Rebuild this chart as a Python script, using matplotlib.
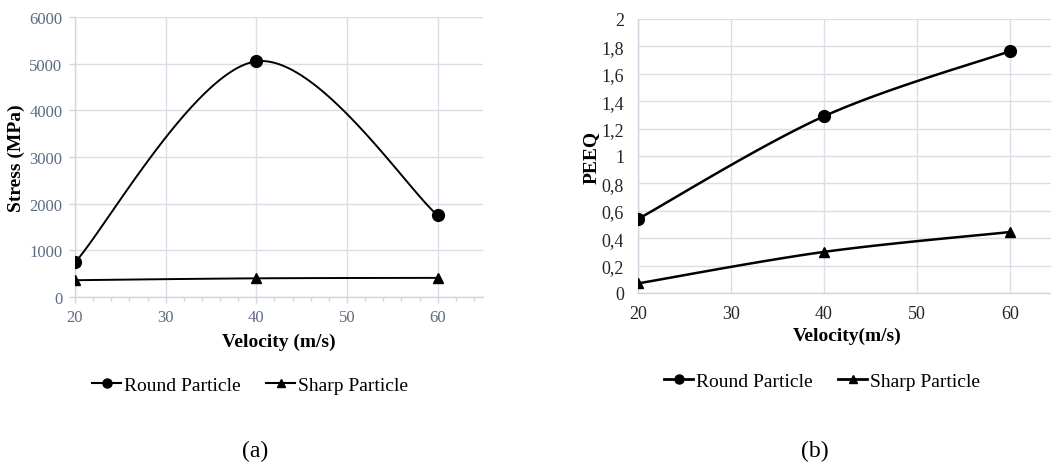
import numpy as np
import matplotlib
matplotlib.use("Agg")
import matplotlib.pyplot as plt
from matplotlib.ticker import MultipleLocator, FuncFormatter
from matplotlib.lines import Line2D

plt.rcParams['font.family'] = ['Liberation Serif', 'DejaVu Serif']

velocity = [20, 40, 60]
stress_round = [740, 5050, 1750]
stress_sharp = [360, 400, 410]
peeq_round = [0.54, 1.29, 1.765]
peeq_sharp = [0.07, 0.30, 0.445]

labels = ["Round Particle", "Sharp Particle"]
xlabel_a = "Velocity (m/s)"
xlabel_b = "Velocity(m/s)"
ylabel_a = "Stress (MPa)"
ylabel_b = "PEEQ"


def smooth(x, y, n=60):
    """Excel-like smoothed line: cubic Bezier with Catmull-Rom control points."""
    P = np.column_stack([x, y]).astype(float)
    P_ext = np.vstack([P[0], P, P[-1]])
    out = []
    t = np.linspace(0, 1, n)[:, None]
    for i in range(len(P) - 1):
        p0 = P_ext[i + 1]
        p3 = P_ext[i + 2]
        c1 = p0 + (P_ext[i + 2] - P_ext[i]) / 6.0
        c2 = p3 - (P_ext[i + 3] - P_ext[i + 1]) / 6.0
        seg = ((1 - t) ** 3) * p0 + 3 * ((1 - t) ** 2) * t * c1 + 3 * (1 - t) * t ** 2 * c2 + t ** 3 * p3
        out.append(seg if i == 0 else seg[1:])
    s = np.vstack(out)
    return s[:, 0], s[:, 1]


W, H = 1051, 464
fig = plt.figure(figsize=(W / 100, H / 100), dpi=100)

grid_c = '#D9DEE7'

# ---------- panel (a) ----------
ax1 = fig.add_axes([75 / W, 1 - 298 / H, (483 - 75) / W, (298 - 18) / H])
ax1.set_xlim(20, 65)
ax1.set_ylim(0, 6000)
ax1.xaxis.set_minor_locator(MultipleLocator(2))
ax1.yaxis.set_major_locator(MultipleLocator(1000))
ax1.set_xticks([20, 30, 40, 50, 60])
ax1.grid(True, which='major', color=grid_c, linewidth=1.0)
ax1.set_axisbelow(True)
for s in ['top', 'right']:
    ax1.spines[s].set_visible(False)
for s in ['left', 'bottom']:
    ax1.spines[s].set_color('#D0D6E0')
    ax1.spines[s].set_linewidth(1.0)
ax1.tick_params(axis='both', which='major', colors='#D0D6E0', labelcolor='#5B6B82',
                labelsize=12, length=4, width=1.0)
ax1.tick_params(axis='x', which='minor', colors='#D0D6E0', length=3, width=1.0)
ax1.tick_params(axis='y', which='major', pad=5)
ax1.tick_params(axis='x', which='major', pad=5)

xr, yr = smooth(velocity, stress_round)
xs, ys = smooth(velocity, stress_sharp)
ax1.plot(xr, yr, color='black', linewidth=1.4, zorder=3)
ax1.plot(velocity, stress_round, linestyle='none', marker='o', markersize=8.5, color='black', zorder=4)
ax1.plot(xs, ys, color='black', linewidth=1.4, zorder=3)
ax1.plot(velocity, stress_sharp, linestyle='none', marker='^', markersize=7.5, color='black', zorder=4)
ax1.set_xlabel(xlabel_a, fontsize=14, fontweight='bold', labelpad=5)
ax1.set_ylabel(ylabel_a, fontsize=14, fontweight='bold', labelpad=3)

# ---------- panel (b) ----------
ax2 = fig.add_axes([638 / W, 1 - 294 / H, (45 * 9.3) / W, (294 - 20) / H])
ax2.set_xlim(20, 65)
ax2.set_ylim(0, 2)
ax2.set_xticks([20, 30, 40, 50, 60])
ax2.yaxis.set_major_locator(MultipleLocator(0.2))
ax2.yaxis.set_major_formatter(FuncFormatter(lambda v, p: ('%g' % round(v, 1)).replace('.', ',')))
ax2.grid(True, which='major', color=grid_c, linewidth=1.0)
ax2.set_axisbelow(True)
for s in ['top', 'right']:
    ax2.spines[s].set_visible(False)
for s in ['left', 'bottom']:
    ax2.spines[s].set_color('#D0D6E0')
    ax2.spines[s].set_linewidth(1.0)
ax2.tick_params(axis='both', which='major', length=0, labelcolor='#262626', labelsize=13)
ax2.tick_params(axis='y', pad=10)
ax2.tick_params(axis='x', pad=9)

xr2, yr2 = smooth(velocity, peeq_round)
xs2, ys2 = smooth(velocity, peeq_sharp)
ax2.plot(xr2, yr2, color='black', linewidth=1.8, zorder=3)
ax2.plot(velocity, peeq_round, linestyle='none', marker='o', markersize=8.5, color='black', zorder=4)
ax2.plot(xs2, ys2, color='black', linewidth=1.8, zorder=3)
ax2.plot(velocity, peeq_sharp, linestyle='none', marker='^', markersize=7.5, color='black', zorder=4)
ax2.set_xlabel(xlabel_b, fontsize=14, fontweight='bold', labelpad=3)
ax2.set_ylabel(ylabel_b, fontsize=14, fontweight='bold', labelpad=1)

# ---------- legends ----------
h_a = [Line2D([], [], color='black', linewidth=1.5, marker='o', markersize=6.5),
       Line2D([], [], color='black', linewidth=1.5, marker='^', markersize=5.5)]
fig.legend(h_a, labels, loc='center', bbox_to_anchor=(250 / W, 1 - 386 / H), ncol=2,
           frameon=False, fontsize=14, handlelength=1.5, handletextpad=0.15, columnspacing=1.3)
h_b = [Line2D([], [], color='black', linewidth=2, marker='o', markersize=6.5),
       Line2D([], [], color='black', linewidth=2, marker='^', markersize=5.5)]
fig.legend(h_b, labels, loc='center', bbox_to_anchor=(822 / W, 1 - 382 / H), ncol=2,
           frameon=False, fontsize=14, handlelength=1.5, handletextpad=0.15, columnspacing=1.3)

fig.text(255 / W, 1 - 451 / H, "(a)", ha='center', va='center', fontsize=17)
fig.text(815 / W, 1 - 451 / H, "(b)", ha='center', va='center', fontsize=17)

fig.savefig("out.png", dpi=100)
